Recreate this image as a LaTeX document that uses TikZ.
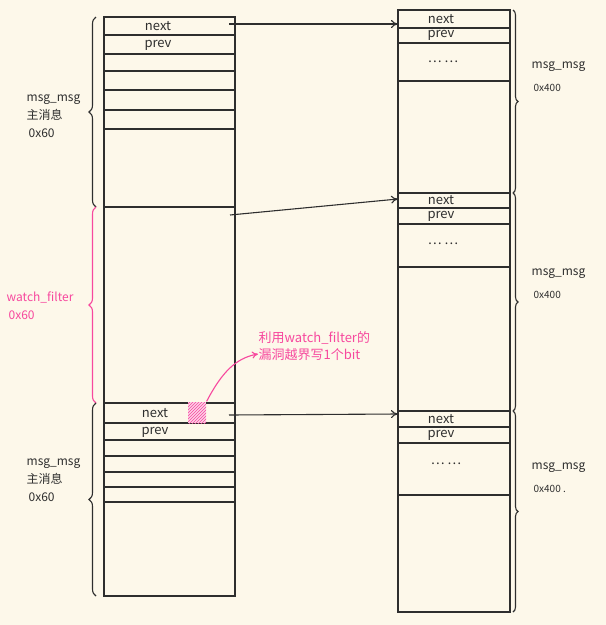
\documentclass[tikz,border=0pt]{standalone}
\usepackage{fontspec}
\setmainfont{Noto Sans CJK SC}
\usepackage{tikz}
\usetikzlibrary{arrows.meta}
\usetikzlibrary{decorations.pathreplacing}
\usetikzlibrary{patterns}

\definecolor{paper}{HTML}{FDF8EA}
\definecolor{ink}{HTML}{2E2E2E}
\definecolor{penpink}{HTML}{F7489E}

\tikzset{
	fld/.style={font=\fontsize{13}{14}\selectfont, text=ink, inner sep=0pt},
	lbl/.style={font=\fontsize{12}{18}\selectfont, text=ink, align=left, inner sep=0pt},
	sz/.style={font=\fontsize{10}{11}\selectfont, text=ink, inner sep=0pt},
	brc/.style={decorate, decoration={brace,amplitude=#1}, ink, line width=1.1pt},
	ptr/.style={-{To[length=7pt,width=8pt]}, ink, line width=1.1pt},
	hatch/.style={minimum width=18pt, minimum height=21pt, inner sep=0pt,
		preaction={fill=penpink!25}, pattern=north east lines, pattern color=penpink}
}

\begin{document}
\begin{tikzpicture}[x=1pt,y=-1pt,line width=1.3pt]
\fill[paper] (0,0) rectangle (606,625);
\useasboundingbox (0,0) rectangle (606,625);

% left column: msg_msg + watch_filter + msg_msg
\draw[ink] (104,17) rectangle (235,596);
\draw[ink] (104,207) -- (235,207);
\draw[ink] (104,403) -- (235,403);
\foreach \y in {35,54,71,90,110,129}
	\draw[ink] (104,\y) -- (235,\y);
\foreach \y in {423,440,456,472,487,502}
	\draw[ink] (104,\y) -- (235,\y);
\draw[ink,line width=2.4pt] (104,207) -- (104,343);

\node[hatch] (flip) at (197,412.5) {};

\node[fld] (nextA) at (158,26) {next};
\node[fld] (prevA) at (158,45) {prev};
\node[fld] (nextC) at (155,413) {next};
\node[fld] (prevC) at (155,432) {prev};

% right column: three msg_msg of 0x400
\draw[ink] (398,10) rectangle (510,193);
\draw[ink] (398,193) rectangle (510,411);
\draw[ink] (398,411) rectangle (510,612);
\foreach \y in {28,43,81,208,224,267,427,443,495}
	\draw[ink] (398,\y) -- (510,\y);

\node[fld] (nextR1) at (441,19) {next};
\node[fld] (prevR1) at (441,35) {prev};
\node[fld] (dotsR1) at (443,62) {\dots\ \dots};
\node[fld] (nextR2) at (441,200) {next};
\node[fld] (prevR2) at (441,216) {prev};
\node[fld] (dotsR2) at (443,244) {\dots\ \dots};
\node[fld] (nextR3) at (441,419) {next};
\node[fld] (prevR3) at (441,435) {prev};
\node[fld] (dotsR3) at (446,464) {\dots\ \dots};

% pointers
\coordinate (srcA) at (229,24);
\coordinate (dstA) at (398,24);
\coordinate (srcB) at (230,215);
\coordinate (dstB) at (398,199);
\coordinate (srcC) at (229,415);
\coordinate (dstC) at (398,414);
\draw[ptr] (srcA) -- (dstA);
\draw[ptr] (srcB) -- (dstB);
\draw[ptr] (srcC) -- (dstC);

% braces on the left
\draw[brc=7pt] (96,207) -- (96,17);
\draw[brc=7pt,penpink] (96,403) -- (96,207);
\draw[brc=7pt] (96,596) -- (96,403);

\node[lbl,anchor=west] (leftA) at (26,116) {msg\_msg\\主消息\\\,0x60};
\node[lbl,anchor=west,text=penpink] (wf) at (6,306) {watch\_filter\\\,0x60};
\node[lbl,anchor=west] (leftC) at (26,480) {msg\_msg\\主消息\\\,0x60};

% braces on the right
\draw[brc=5pt] (513,10) -- (513,193);
\draw[brc=5pt] (513,193) -- (513,411);
\draw[brc=5pt] (513,411) -- (513,612);

\node[lbl,anchor=west] (rightA) at (531,67) {msg\_msg};
\node[sz,anchor=west] (sizeA) at (533,88) {0x400};
\node[lbl,anchor=west] (rightB) at (531,274) {msg\_msg};
\node[sz,anchor=west] (sizeB) at (533,295) {0x400};
\node[lbl,anchor=west] (rightC) at (531,468) {msg\_msg};
\node[sz,anchor=west] (sizeC) at (533,489) {0x400 .};

% the one-bit overflow
\node[font=\fontsize{13}{17}\selectfont, text=penpink, align=left, anchor=west, inner sep=0pt]
	(note) at (258,346) {利用watch\_filter的\\漏洞越界写1个bit};
\draw[penpink,line width=1.1pt,-{To[length=6pt,width=7pt]}]
	(flip.north east) .. controls (222,372) and (236,358) .. (note.west |- 0,354);

\end{tikzpicture}
\end{document}
